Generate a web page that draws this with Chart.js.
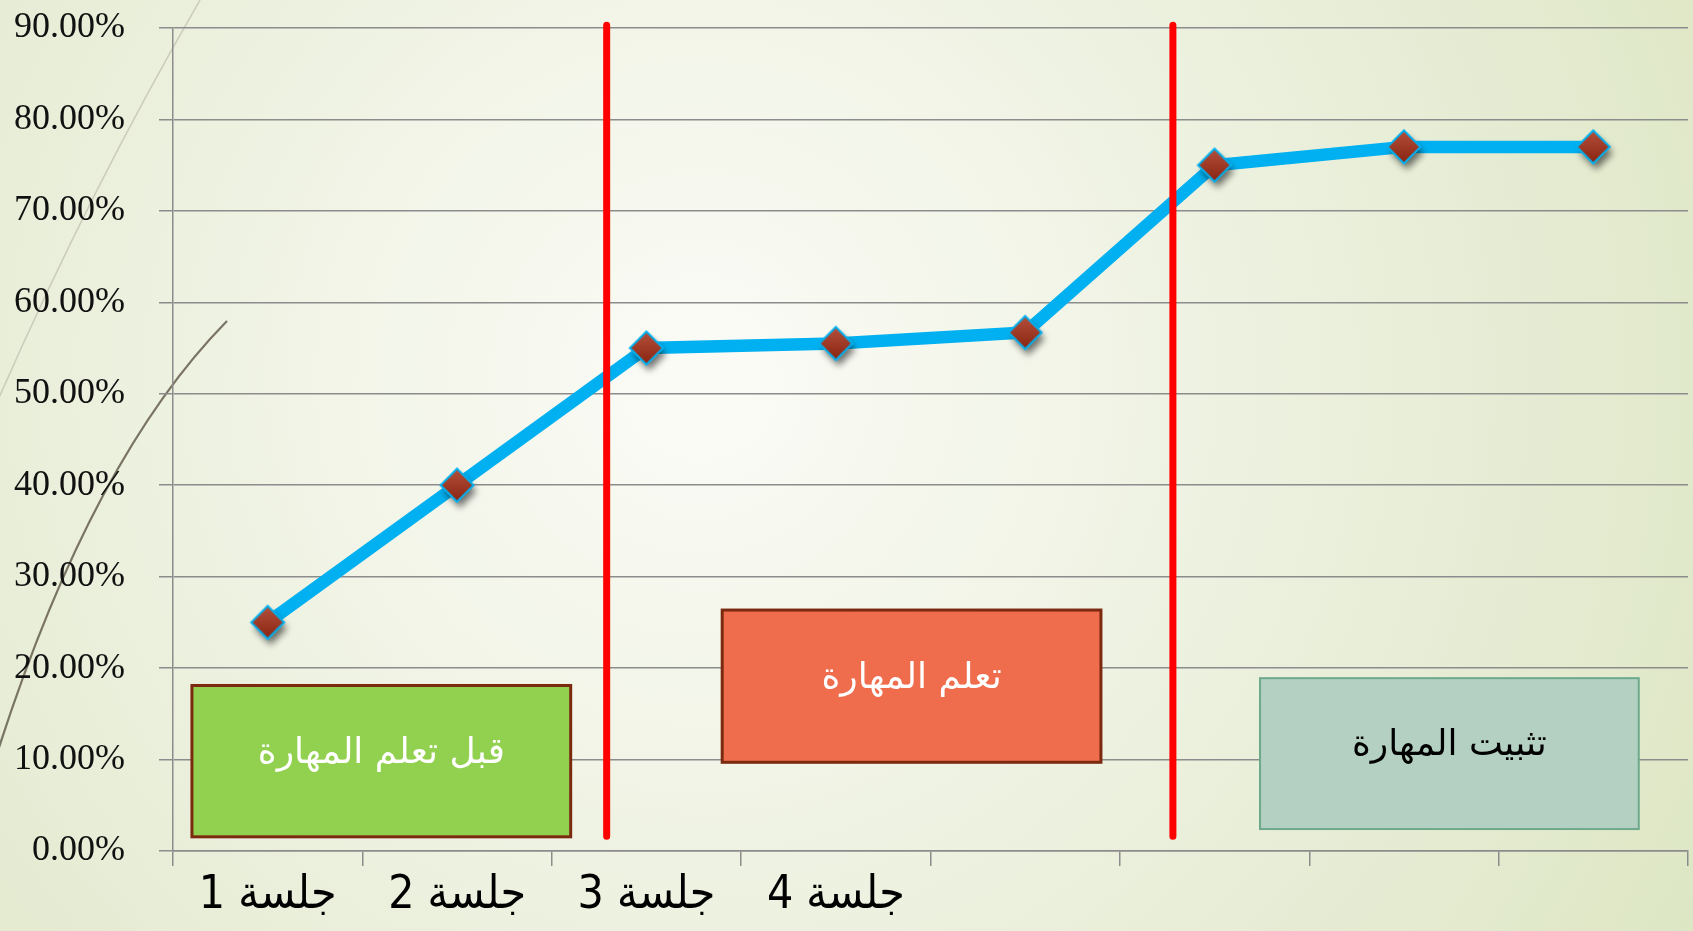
<!DOCTYPE html>
<html lang="ar">
<head>
<meta charset="utf-8">
<title>مراحل اكتساب المهارة</title>
<script src="https://cdn.jsdelivr.net/npm/chart.js@4.4.1/dist/chart.umd.min.js"></script>
<style>
  html, body { margin: 0; padding: 0; background: #eef2e2; }
  #wrap { position: relative; width: 1693px; height: 931px; }
</style>
</head>
<body>
<div id="wrap"><canvas id="skillChart"></canvas></div>
<script>
// data
const SESSION_LABELS = ['جلسة 1', 'جلسة 2', 'جلسة 3', 'جلسة 4', '', '', '', ''];
const SCORES = [25, 40, 55, 55.5, 56.7, 75, 77, 77];
const Y_TICKS = [0, 10, 20, 30, 40, 50, 60, 70, 80, 90];
const PHASE_NAMES = ['قبل تعلم المهارة', 'تعلم المهارة', 'تثبيت المهارة'];
const PHASE_DIVIDERS = [2.79, 5.78];   // session position of each red line
const DIVIDER_SPAN = [1.6, 90.3];      // bottom / top of the red lines (%)

const LINE_COLOR = '#00b0f0';
const GRID_COLOR = '#8c8c8c';

// phase boxes, placed in axis units (x2 = session, y = %)
const PHASE_BOXES = [
  { from: 0.6, to: 2.6, bottom: 1.55, top: 18.1, fill: '#92d050', border: '#7b2a10', borderWidth: 3, text: '#ffffff' },
  { from: 3.4, to: 5.4, bottom: 9.7, top: 26.35, fill: '#ef6d4c', border: '#7b2a10', borderWidth: 3, text: '#ffffff' },
  { from: 6.24, to: 8.24, bottom: 2.4, top: 18.9, fill: '#b3d0c2', border: '#6ea98c', borderWidth: 2, text: '#000000' }
];

function diamondMarker() {
  const c = document.createElement('canvas');
  c.width = 70; c.height = 70;
  const g = c.getContext('2d');
  const r = 16.5;
  g.save();
  g.shadowColor = 'rgba(0,0,0,0.55)';
  g.shadowBlur = 7;
  g.shadowOffsetX = 3;
  g.shadowOffsetY = 6;
  g.beginPath();
  g.moveTo(35, 35 - r); g.lineTo(35 + r, 35); g.lineTo(35, 35 + r); g.lineTo(35 - r, 35);
  g.closePath();
  const grad = g.createLinearGradient(0, 35 - r, 0, 35 + r);
  grad.addColorStop(0, '#b3503c');
  grad.addColorStop(1, '#8a2410');
  g.fillStyle = grad;
  g.fill();
  g.restore();
  g.lineWidth = 2;
  g.strokeStyle = LINE_COLOR;
  g.stroke();
  return c;
}

const slideBackground = {
  id: 'slideBackground',
  beforeDraw(chart) {
    const { ctx, width, height } = chart;
    ctx.save();
    const bg = ctx.createRadialGradient(700, 380, 40, 700, 380, 1150);
    bg.addColorStop(0, '#fafbf5');
    bg.addColorStop(0.6, '#e9eed9');
    bg.addColorStop(1, '#dde6c3');
    ctx.fillStyle = bg;
    ctx.fillRect(0, 0, width, height);
    // theme decoration curves
    ctx.strokeStyle = 'rgba(190,190,175,0.7)';
    ctx.lineWidth = 1.5;
    ctx.beginPath();
    ctx.moveTo(200, 0);
    ctx.quadraticCurveTo(90, 190, -2, 400);
    ctx.stroke();
    ctx.strokeStyle = '#7a7464';
    ctx.lineWidth = 2.2;
    ctx.beginPath();
    ctx.moveTo(227, 321);
    ctx.quadraticCurveTo(90, 460, -5, 760);
    ctx.stroke();
    ctx.restore();
  }
};

const phaseBoxes = {
  id: 'phaseBoxes',
  afterDatasetsDraw(chart) {
    const { ctx, scales: { x2, y } } = chart;
    PHASE_BOXES.forEach((box, i) => {
      const left = x2.getPixelForValue(box.from);
      const right = x2.getPixelForValue(box.to);
      const top = y.getPixelForValue(box.top);
      const bottom = y.getPixelForValue(box.bottom);
      ctx.save();
      ctx.fillStyle = box.fill;
      ctx.fillRect(left, top, right - left, bottom - top);
      ctx.lineWidth = box.borderWidth;
      ctx.strokeStyle = box.border;
      ctx.strokeRect(left, top, right - left, bottom - top);
      ctx.fillStyle = box.text;
      ctx.font = '36px "DejaVu Sans", sans-serif';
      ctx.direction = 'rtl';
      ctx.textAlign = 'center';
      ctx.textBaseline = 'middle';
      ctx.fillText(PHASE_NAMES[i], (left + right) / 2, (top + bottom) / 2 - 8);
      ctx.restore();
    });
  }
};

const dividerSets = PHASE_DIVIDERS.map(pos => ({
  label: 'divider',
  xAxisID: 'x2',
  data: [{ x: pos, y: DIVIDER_SPAN[1] }, { x: pos, y: DIVIDER_SPAN[0] }],
  borderColor: '#ff0000',
  borderWidth: 7,
  borderCapStyle: 'round',
  pointRadius: 0,
  clip: false,
  order: 0
}));

const ctx = document.getElementById('skillChart').getContext('2d');
new Chart(ctx, {
  type: 'line',
  data: {
    labels: SESSION_LABELS,
    datasets: [
      {
        label: 'النسبة',
        data: SCORES,
        borderColor: LINE_COLOR,
        borderWidth: 12.5,
        tension: 0,
        pointStyle: diamondMarker(),
        pointRadius: 16,
        order: 1
      },
      ...dividerSets
    ]
  },
  options: {
    responsive: true,
    maintainAspectRatio: false,
    animation: false,
    layout: { autoPadding: false, padding: { left: 12, top: 28, right: 5, bottom: 0 } },
    plugins: {
      legend: { display: false },
      tooltip: { enabled: false }
    },
    scales: {
      x: {
        offset: true,
        grid: { offset: true, drawOnChartArea: false, color: GRID_COLOR, lineWidth: 1.5, tickLength: 15 },
        border: { color: GRID_COLOR, width: 1.5 },
        ticks: {
          autoSkip: false,
          maxRotation: 0,
          padding: 2,
          color: '#000',
          font: { size: 46, family: "'Liberation Sans Narrow', 'DejaVu Sans Condensed', 'DejaVu Sans', sans-serif" }
        },
        afterFit: scale => { scale.height = 80; }
      },
      x2: {
        type: 'linear',
        display: false,
        min: 0.5,
        max: SESSION_LABELS.length + 0.5
      },
      y: {
        min: Y_TICKS[0],
        max: Y_TICKS[Y_TICKS.length - 1],
        grid: { color: GRID_COLOR, lineWidth: 1.5, tickLength: 14 },
        border: { color: GRID_COLOR, width: 1.5 },
        ticks: {
          stepSize: Y_TICKS[1] - Y_TICKS[0],
          padding: 34,
          color: '#111',
          font: { size: 36, family: "'Liberation Serif', serif" },
          callback: v => v.toFixed(2) + '%'
        },
        // tick padding would otherwise also push the plot down
        afterFit: scale => {
          scale.width = 161;
          scale.paddingTop = 0;
          scale.paddingBottom = 0;
        }
      }
    }
  },
  plugins: [slideBackground, phaseBoxes]
});
</script>
</body>
</html>
